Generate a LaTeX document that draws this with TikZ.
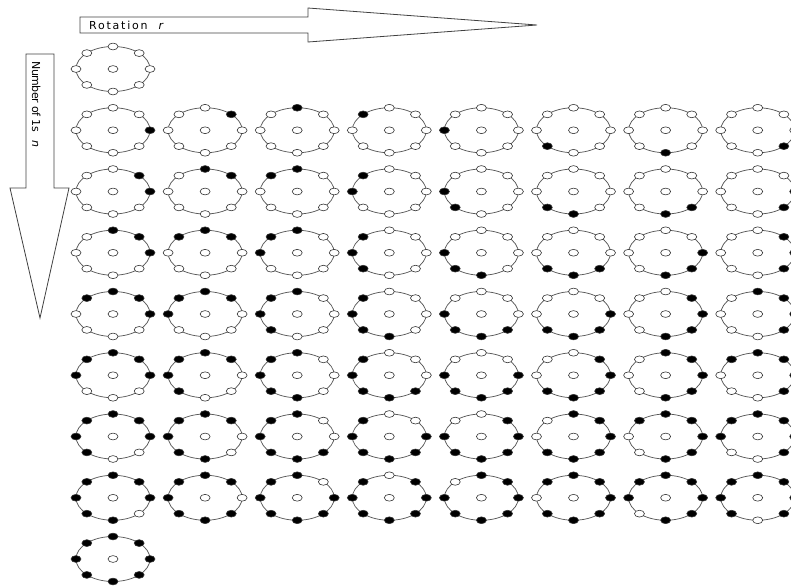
\documentclass[tikz,border=0pt]{standalone}
\usepackage{fontspec}
\setmainfont{DejaVu Sans}
\newfontfamily\spacedfont[LetterSpace=16]{DejaVu Sans}
\newfontfamily\tightfont[LetterSpace=-4]{DejaVu Sans}
\usetikzlibrary{shapes.geometric}
\tikzset{
  arrowline/.style={draw=black!75, line width=0.8pt, line join=miter},
  ringline/.style={draw=black!65, line width=0.75pt},
  dotnode/.style={ellipse, draw=black!80, line width=0.6pt, minimum width=10pt, minimum height=6.8pt, inner sep=0pt},
  labeltext/.style={inner sep=0pt, font=\fontsize{11}{13}\selectfont}
}
\begin{document}
\begin{tikzpicture}[x=1pt,y=-1pt]
\useasboundingbox (0,0) rectangle (791,587);
\clip (0,0) rectangle (791,587);
% top arrow
\draw[arrowline] (80,17) -- (308,17) -- (308,8) -- (537,25) -- (308,42) -- (308,33) -- (80,33) -- cycle;
\node[labeltext, anchor=base west] (rot) at (89,29.5) {\spacedfont Rotation\hspace{11pt}\textit{r}};
% left arrow
\draw[arrowline] (26,54) -- (54,54) -- (54,188) -- (69,188) -- (40,318) -- (10,188) -- (26,188) -- cycle;
\node[labeltext, anchor=base west, rotate=-90] (num) at (32,61) {\tightfont Number of 1s\hspace{9pt}\textit{n}};
% grid of rings
\foreach \n/\rmax in {0/0,1/7,2/7,3/7,4/7,5/7,6/7,7/7,8/0}{
  \foreach \r in {0,...,\rmax}{
    \pgfmathsetmacro\cx{113+92.1*\r}
    \pgfmathsetmacro\cy{69+61.25*\n}
    \draw[ringline] (\cx,\cy) ellipse [x radius=37pt, y radius=22.5pt];
    \node[dotnode, fill=white] (c\n-\r) at (\cx,\cy) {};
    \foreach \k in {0,...,7}{
      \pgfmathtruncatemacro\isone{(mod(\k-\r+8,8)<\n)}
      \ifnum\isone=1 \def\fc{black}\else\def\fc{white}\fi
      \node[dotnode, fill=\fc] (d\n-\r-\k) at ({\cx+37*cos(45*\k)},{\cy-22.5*sin(45*\k)}) {};
    }
  }
}
\end{tikzpicture}
\end{document}
